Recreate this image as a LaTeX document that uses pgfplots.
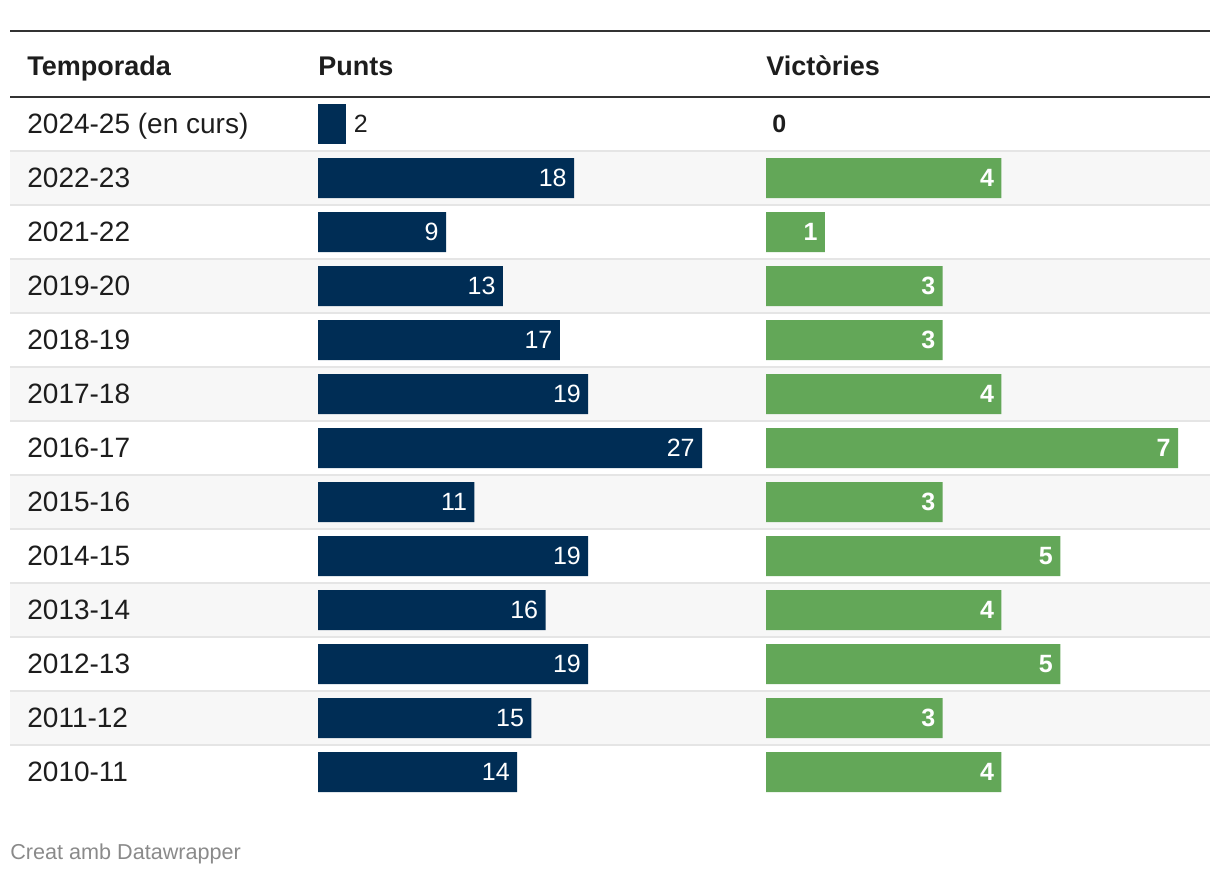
\documentclass[border=0pt]{standalone}
\usepackage{pgfplots}
\pgfplotsset{compat=1.18}
\usepackage{fontspec}
\setmainfont{Liberation Sans}

\definecolor{navy}{HTML}{002D55}
\definecolor{vgreen}{HTML}{63A758}
\definecolor{rowgray}{HTML}{F7F7F7}
\definecolor{sepgray}{HTML}{E5E5E5}
\definecolor{rulegray}{HTML}{333333}
\definecolor{ink}{HTML}{1D1D1D}
\definecolor{footgray}{HTML}{8A8A8A}

% punts, one row per season (top to bottom)
\pgfplotstableread{
row val
1 18
2 9
3 13
4 17
5 19
6 27
7 11
8 19
9 16
10 19
11 15
12 14
}\punts

% victories
\pgfplotstableread{
row val
1 4
2 1
3 3
4 3
5 4
6 7
7 3
8 5
9 4
10 5
11 3
12 4
}\wins

\newcommand{\rowfont}{\fontsize{14pt}{16pt}\selectfont}
\newcommand{\headfont}{\fontsize{13.5pt}{16pt}\selectfont\bfseries}
\newcommand{\valfont}{\fontsize{12.5pt}{15pt}\selectfont}

% all lengths in pt, 1pt = 2px of the 1220x874 picture
\pgfplotsset{
  tablecol/.style={
    scale only axis,
    anchor=north west,
    height=351pt,
    ymin=-0.5, ymax=12.5,
    y dir=reverse,
    axis line style={draw=none},
    major tick length=0pt,
    xtick=\empty,
    ytick=\empty,
    xbar,
    bar width=20pt,
    bar shift=0pt,
    clip=false,
    /pgf/number format/assume math mode=true,
  },
}

\begin{document}
\begin{tikzpicture}
  \path (0pt,0pt) rectangle (610pt,-437pt);

  % alternating row shading
  \foreach \i in {1,3,5,7,9,11} {
    \fill[rowgray] (5pt,{-48.5pt-27pt*\i}) rectangle (605pt,{-75.5pt-27pt*\i});
  }
  \foreach \i in {1,...,12} {
    \draw[sepgray, line width=1pt] (5pt,{-48.5pt-27pt*\i}) -- (605pt,{-48.5pt-27pt*\i});
  }
  \draw[rulegray, line width=1pt] (5pt,-15.5pt) -- (605pt,-15.5pt);
  \draw[rulegray, line width=1pt] (5pt,-48.5pt) -- (605pt,-48.5pt);

  % header
  \node[anchor=base west, inner sep=0pt, font=\headfont, text=ink] at (13.5pt,-37.5pt) {Temporada};
  \node[anchor=base west, inner sep=0pt, font=\headfont, text=ink] at (159pt,-37.5pt) {Punts};
  \node[anchor=base west, inner sep=0pt, font=\headfont, text=ink] at (383pt,-37.5pt) {Victòries};

  % Punts column
  \begin{axis}[tablecol,
    at={(159pt,-48.5pt)},
    width=192pt,
    xmin=0, xmax=27,
    ytick={0,...,12},
    yticklabels={2024-25 (en curs),2022-23,2021-22,2019-20,2018-19,2017-18,2016-17,2015-16,2014-15,2013-14,2012-13,2011-12,2010-11},
    yticklabel style={anchor=west, xshift=-145.5pt, yshift=-1.2pt, inner sep=0pt,
      font=\rowfont, text=ink, text height=7.2pt, text depth=0pt},
  ]
    \addplot[fill=navy, draw=none,
      nodes near coords,
      every node near coord/.append style={anchor=east, xshift=-3.5pt,
        inner sep=0pt, text=white, font=\valfont}]
      table[x=val, y=row] {\punts};
    \addplot[fill=navy, draw=none,
      nodes near coords,
      every node near coord/.append style={anchor=west, xshift=3.5pt,
        inner sep=0pt, text=ink, font=\valfont}]
      coordinates {(2,0)};
  \end{axis}

  % Victories column
  \begin{axis}[tablecol,
    at={(383pt,-48.5pt)},
    width=206pt,
    xmin=0, xmax=7,
  ]
    \addplot[fill=vgreen, draw=none,
      nodes near coords,
      every node near coord/.append style={anchor=east, xshift=-3.5pt,
        inner sep=0pt, text=white, font=\valfont\bfseries}]
      table[x=val, y=row] {\wins};
    \addplot[fill=none, draw=none,
      nodes near coords,
      every node near coord/.append style={anchor=west, xshift=3pt,
        inner sep=0pt, text=ink, font=\valfont\bfseries}]
      coordinates {(0,0)};
  \end{axis}

  % footer
  \node[anchor=base west, inner sep=0pt, font=\fontsize{10.8pt}{13pt}\selectfont, text=footgray] at (5pt,-429.5pt) {Creat amb Datawrapper};
\end{tikzpicture}
\end{document}
